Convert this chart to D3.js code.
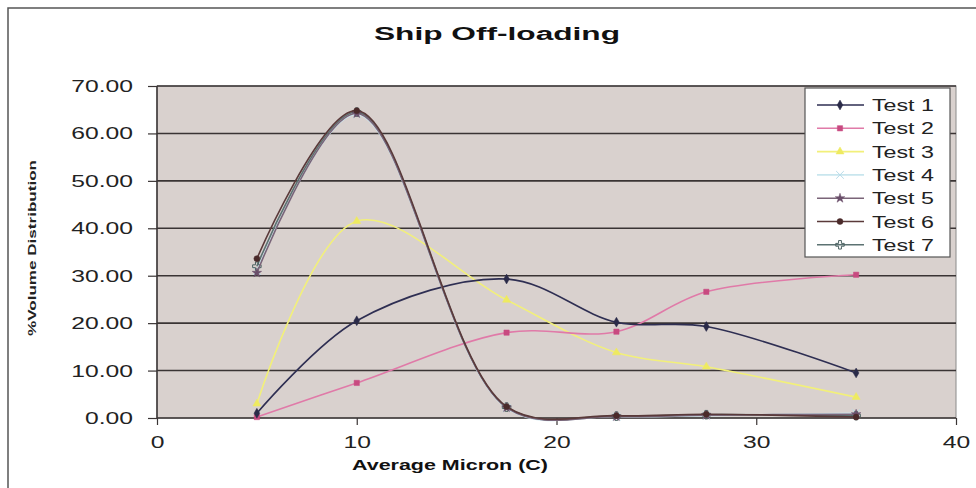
<!DOCTYPE html>
<html><head><meta charset="utf-8">
<script src="https://cdn.jsdelivr.net/npm/d3@7"></script>
<style>body{margin:0;background:#fff}svg{display:block}</style>
</head><body>
<svg id="c" width="976" height="488"></svg>
<script>
const xValues = [5, 10, 17.5, 23, 27.5, 35];
const seriesNames = ["Test 1","Test 2","Test 3","Test 4","Test 5","Test 6","Test 7"];
const test1 = [1.0, 20.5, 29.3, 20.2, 19.3, 9.5];
const test2 = [0.2, 7.4, 18.0, 18.2, 26.6, 30.2];
const test3 = [3.0, 41.5, 24.9, 13.8, 10.8, 4.4];
const test4 = [31.0, 64.0, 2.1, 0.3, 0.5, 1.0];
const test5 = [30.6, 64.2, 2.2, 0.3, 0.6, 0.8];
const test6 = [33.6, 64.8, 2.4, 0.5, 0.8, 0.2];
const test7 = [32.0, 64.5, 2.3, 0.4, 0.7, 0.5];
const yTicks = [0,10,20,30,40,50,60,70];
const xTicks = [0,10,20,30,40];

const allSeries = [test1,test2,test3,test4,test5,test6,test7];
const colors = ["#2e2e52","#e07aa8","#f2f07a","#c9e6ee","#7a6478","#5a3a3a","#5c7272"];
const markerColors = ["#2a2a48","#c84a80","#eeea60","#b8dcea","#6a4e6a","#4a2a2a","#4c6262"];
const markers = ["diamond","square","triangle","x","star","circle","plus"];
const FONT = "Liberation Sans, Arial, sans-serif";

const svg = d3.select("#c");
const L=157, R=956, T=86, B=418;
const x = d3.scaleLinear().domain([0,40]).range([L,R]);
const y = d3.scaleLinear().domain([0,70]).range([B,T]);

function stretch(sel, k){
  sel.each(function(){
    const w = this.getComputedTextLength();
    d3.select(this).attr("textLength", w*k).attr("lengthAdjust","spacingAndGlyphs");
  });
}

// chart border
svg.append("rect").attr("x",8).attr("y",8).attr("width",976).attr("height",488)
  .attr("fill","#fff").attr("stroke","#555").attr("stroke-width",1.5);

// plot bg
svg.append("rect").attr("x",L).attr("y",T).attr("width",R-L).attr("height",B-T)
  .attr("fill","#d9d1ce").attr("stroke","#8a8a8a").attr("stroke-width",1);

// gridlines
svg.append("g").selectAll("line").data(yTicks.slice(1)).join("line")
  .attr("x1",L).attr("x2",R).attr("y1",d=>y(d)).attr("y2",d=>y(d))
  .attr("stroke","#3a3434").attr("stroke-width",1.6);

// axes
const yAxis = d3.axisLeft(y).tickValues(yTicks).tickFormat(d3.format(".2f")).tickSize(9).tickPadding(15);
const gy = svg.append("g").attr("transform",`translate(${L},0)`).call(yAxis);
const xAxis = d3.axisBottom(x).tickValues(xTicks).tickSize(7).tickPadding(11);
const gx = svg.append("g").attr("transform",`translate(0,${B})`).call(xAxis);
[gy,gx].forEach(g=>{
  g.selectAll("path").attr("stroke","#3a3434").attr("stroke-width",1.5);
  g.selectAll("line").attr("stroke","#3a3434").attr("stroke-width",1.2);
  g.selectAll("text").attr("font-family",FONT).attr("font-size",17).attr("fill","#222");
  stretch(g.selectAll("text"), 1.45);
});
gx.select(".domain").attr("d",`M${L},0H${R}`);
gy.select(".domain").attr("d",`M0,${y(70)}V${y(0)}`);

// lines
const line = d3.line().x(d=>x(d[0])).y(d=>y(d[1])).curve(d3.curveCatmullRom.alpha(0.5));
const sym = {
  diamond:d3.symbolDiamond, square:d3.symbolSquare, triangle:d3.symbolTriangle,
  x:d3.symbolX, star:d3.symbolStar, circle:d3.symbolCircle, plus:d3.symbolCross
};
function drawMarker(g, type, cx, cy, i){
  const s = d3.symbol().type(sym[type]).size(type==="plus"||type==="x"?40:28);
  const p = g.append("path").attr("d",s()).attr("transform",`translate(${cx},${cy})`);
  if(type==="x"||type==="plus") p.attr("fill","none").attr("stroke",markerColors[i]).attr("stroke-width",1);
  else p.attr("fill",markerColors[i]).attr("stroke",markerColors[i]).attr("stroke-width",0.5);
}
const drawOrder = [3,2,1,0,6,4,5];
drawOrder.forEach(i=>{
  const pts = xValues.map((xv,j)=>[xv, allSeries[i][j]]);
  svg.append("path").attr("d",line(pts)).attr("fill","none").attr("stroke",colors[i]).attr("stroke-width",1.6);
  const g = svg.append("g");
  pts.forEach(p=>drawMarker(g, markers[i], x(p[0]), y(p[1]), i));
});

// legend
const lg = svg.append("g");
lg.append("rect").attr("x",805).attr("y",88).attr("width",145).attr("height",169)
  .attr("fill","#fff").attr("stroke","#555").attr("stroke-width",1.2);
seriesNames.forEach((n,i)=>{
  const yy = 105 + i*23.3;
  lg.append("line").attr("x1",817).attr("x2",864).attr("y1",yy).attr("y2",yy)
    .attr("stroke",colors[i]).attr("stroke-width",1.6);
  drawMarker(lg, markers[i], 840, yy, i);
  const t = lg.append("text").attr("x",872).attr("y",yy+6).text(n)
    .attr("font-family",FONT).attr("font-size",16).attr("fill","#222");
  stretch(t, 1.45);
});

// titles
svg.append("text").attr("x",497).attr("y",40).attr("text-anchor","middle")
  .attr("font-family",FONT).attr("font-weight","bold").attr("font-size",18)
  .attr("textLength",246).attr("lengthAdjust","spacingAndGlyphs")
  .attr("fill","#111").text("Ship Off-loading");
svg.append("text").attr("x",450).attr("y",470).attr("text-anchor","middle")
  .attr("font-family",FONT).attr("font-weight","bold").attr("font-size",15)
  .attr("textLength",196).attr("lengthAdjust","spacingAndGlyphs")
  .attr("fill","#111").text("Average Micron (C)");
svg.append("text").attr("transform","translate(36,248) rotate(-90)").attr("text-anchor","middle")
  .attr("font-family",FONT).attr("font-weight","bold").attr("font-size",11)
  .attr("textLength",176).attr("lengthAdjust","spacingAndGlyphs")
  .attr("fill","#222").text("%Volume Distribution");
</script>
</body></html>
